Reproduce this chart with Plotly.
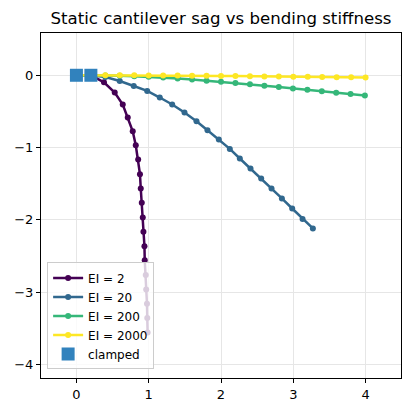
import plotly.graph_objects as go

# ---- data ----
labels = ["EI = 2", "EI = 20", "EI = 200", "EI = 2000"]
colors = ["#440154", "#31688e", "#35b779", "#fde725"]

x_ei2 = [0.0, 0.2, 0.381, 0.530, 0.641, 0.710, 0.779, 0.821, 0.854, 0.879, 0.890,
         0.904, 0.918, 0.927, 0.941, 0.945, 0.959, 0.965, 0.976, 0.980, 0.985]
y_ei2 = [0.0, 0.0, -0.097, -0.239, -0.405, -0.585, -0.775, -0.968, -1.166, -1.369, -1.567,
         -1.766, -1.968, -2.167, -2.365, -2.559, -2.766, -2.964, -3.163, -3.361, -3.559]

x_ei20 = [0.0, 0.2, 0.401, 0.599, 0.793, 0.979, 1.153, 1.325, 1.495, 1.661, 1.813,
          1.970, 2.122, 2.260, 2.408, 2.556, 2.699, 2.842, 2.985, 3.128, 3.271]
y_ei20 = [0.0, 0.0, -0.024, -0.079, -0.148, -0.217, -0.308, -0.405, -0.516, -0.636, -0.761,
          -0.889, -1.019, -1.152, -1.290, -1.429, -1.567, -1.705, -1.844, -1.988, -2.120]

x_ei200 = [0.0, 0.2, 0.4, 0.6, 0.8, 1.0, 1.2, 1.4, 1.6, 1.8, 2.0,
           2.2, 2.4, 2.6, 2.8, 2.995, 3.195, 3.395, 3.593, 3.792, 3.99]
y_ei200 = [0.0, 0.0, -0.0015, -0.0058, -0.0126, -0.0215, -0.0324, -0.045, -0.059, -0.0743, -0.0907,
           -0.1079, -0.1257, -0.1442, -0.163, -0.1822, -0.2016, -0.2211, -0.2407, -0.2603, -0.28]

x_ei2000 = [0.0, 0.2, 0.4, 0.6, 0.8, 1.0, 1.2, 1.4, 1.6, 1.8, 2.0,
            2.2, 2.4, 2.6, 2.8, 3.0, 3.2, 3.4, 3.6, 3.8, 4.0]
y_ei2000 = [0.0, 0.0, -0.0002, -0.0006, -0.0013, -0.0023, -0.0035, -0.0048, -0.0063, -0.008, -0.0097,
            -0.0116, -0.0135, -0.0154, -0.0175, -0.0195, -0.0216, -0.0237, -0.0258, -0.0279, -0.03]

clamp_x = [0.0, 0.2]
clamp_y = [0.0, 0.0]

x_ticks = [0, 1, 2, 3, 4]
y_ticks = [0, -1, -2, -3, -4]
y_tick_text = ["0", "\u22121", "\u22122", "\u22123", "\u22124"]

series_x = [x_ei2, x_ei20, x_ei200, x_ei2000]
series_y = [y_ei2, y_ei20, y_ei200, y_ei2000]

FONT = "DejaVu Sans"

fig = go.Figure()
for lab, col, xs, ys in zip(labels, colors, series_x, series_y):
    fig.add_trace(go.Scatter(
        x=xs, y=ys, mode="lines+markers", name=lab,
        line=dict(color=col, width=2.5),
        marker=dict(color=col, size=6),
    ))

fig.add_trace(go.Scatter(
    x=clamp_x, y=clamp_y, mode="markers", name="clamped",
    marker=dict(symbol="square", color="#3182bd", size=13, line=dict(width=0)),
))

axis_common = dict(
    showline=True, linecolor="black", linewidth=1, mirror=True,
    ticks="outside", ticklen=4, tickcolor="black", tickwidth=1,
    showgrid=True, gridcolor="#e6e6e6", gridwidth=1,
    zeroline=False,
    tickfont=dict(family=FONT, size=13, color="black"),
)

fig.update_layout(
    width=411, height=412,
    margin=dict(l=41, r=10, t=33, b=34),
    paper_bgcolor="white", plot_bgcolor="white",
    title=dict(text="Static cantilever sag vs bending stiffness",
               x=0.5, xanchor="center", xref="paper",
               y=1 - 18 / 412, yanchor="middle",
               font=dict(family=FONT, size=16.6, color="black")),
    xaxis=dict(range=[-0.49, 4.49], tickvals=x_ticks, **axis_common),
    yaxis=dict(range=[-4.19, 0.585], tickvals=y_ticks, ticktext=y_tick_text, **axis_common),
    legend=dict(x=0.017, y=0.025, xanchor="left", yanchor="bottom",
                bgcolor="rgba(255,255,255,0.8)", bordercolor="#cccccc", borderwidth=1,
                font=dict(family=FONT, size=12, color="black"),
                itemwidth=30, tracegroupgap=0),
    showlegend=True,
)

fig.write_html("out.html")
